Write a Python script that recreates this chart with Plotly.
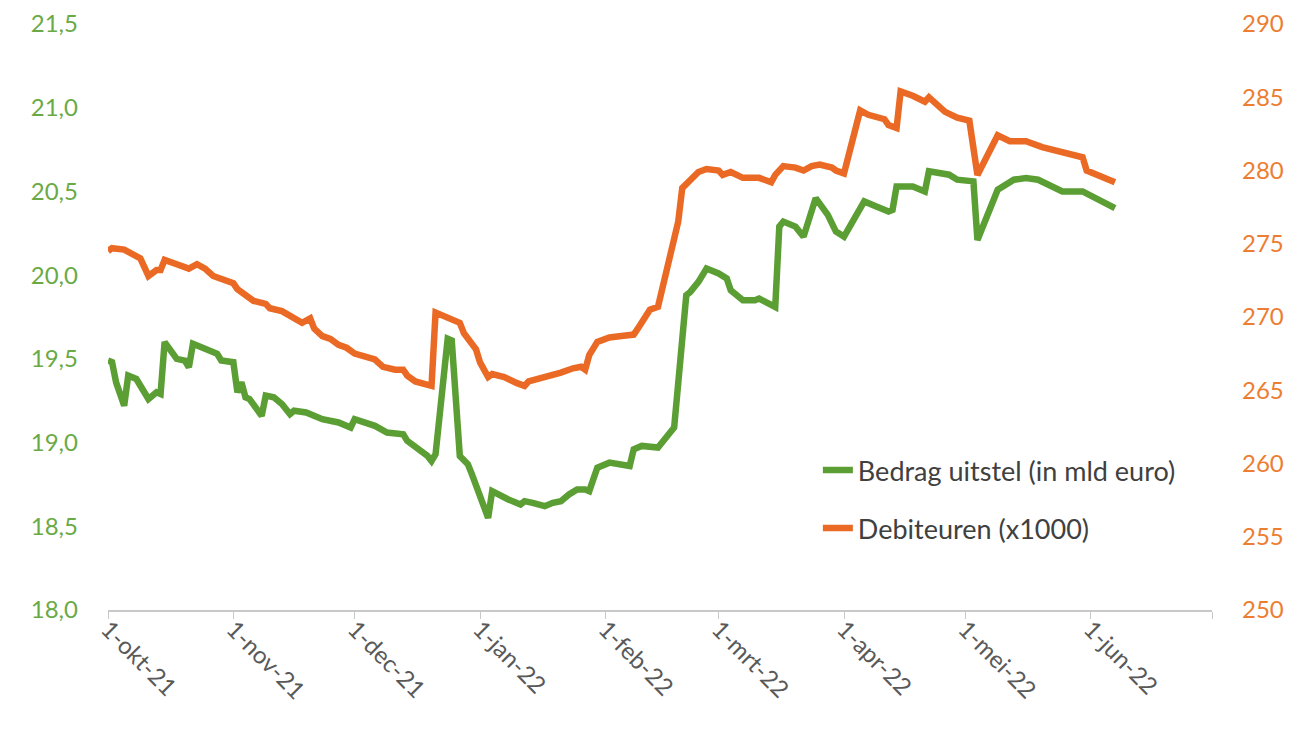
import plotly.graph_objects as go

# Bedrag uitstel (in mld euro) - left axis
uitstel_dates = [
    '2021-10-01', '2021-10-02', '2021-10-03', '2021-10-05', '2021-10-06', '2021-10-08',
    '2021-10-11', '2021-10-13', '2021-10-14', '2021-10-15', '2021-10-18', '2021-10-20',
    '2021-10-21', '2021-10-22', '2021-10-25', '2021-10-28', '2021-10-29', '2021-11-01',
    '2021-11-02', '2021-11-03', '2021-11-04', '2021-11-05', '2021-11-08', '2021-11-09',
    '2021-11-11', '2021-11-13', '2021-11-15', '2021-11-16', '2021-11-19', '2021-11-23',
    '2021-11-27', '2021-11-30', '2021-12-01', '2021-12-04', '2021-12-06', '2021-12-09',
    '2021-12-13', '2021-12-14', '2021-12-17', '2021-12-19', '2021-12-20', '2021-12-21',
    '2021-12-24', '2021-12-25', '2021-12-27', '2021-12-29', '2021-12-30', '2022-01-01',
    '2022-01-03', '2022-01-04', '2022-01-06', '2022-01-08', '2022-01-11', '2022-01-12',
    '2022-01-14', '2022-01-17', '2022-01-19', '2022-01-21', '2022-01-23', '2022-01-25',
    '2022-01-27', '2022-01-28', '2022-01-30', '2022-02-02', '2022-02-07', '2022-02-08',
    '2022-02-10', '2022-02-14', '2022-02-17', '2022-02-18', '2022-02-21', '2022-02-22',
    '2022-02-24', '2022-02-26', '2022-03-01', '2022-03-03', '2022-03-04', '2022-03-07',
    '2022-03-10', '2022-03-11', '2022-03-15', '2022-03-16', '2022-03-17', '2022-03-20',
    '2022-03-22', '2022-03-25', '2022-03-28', '2022-03-30', '2022-04-01', '2022-04-06',
    '2022-04-09', '2022-04-12', '2022-04-13', '2022-04-14', '2022-04-18', '2022-04-21',
    '2022-04-22', '2022-04-24', '2022-04-27', '2022-04-29', '2022-05-03', '2022-05-04',
    '2022-05-09', '2022-05-13', '2022-05-16', '2022-05-19', '2022-05-25', '2022-05-30',
    '2022-06-07',
]
uitstel = [
    19.49, 19.48, 19.36, 19.22, 19.40, 19.38,
    19.26, 19.30, 19.29, 19.60, 19.50, 19.49,
    19.45, 19.59, 19.56, 19.53, 19.49, 19.48,
    19.30, 19.36, 19.27, 19.26, 19.16, 19.28,
    19.27, 19.23, 19.17, 19.19, 19.18, 19.14,
    19.12, 19.09, 19.14, 19.12, 19.10, 19.06,
    19.05, 19.01, 18.96, 18.92, 18.89, 18.93,
    19.62, 19.61, 18.92, 18.87, 18.81, 18.67,
    18.55, 18.71, 18.68, 18.66, 18.63, 18.65,
    18.64, 18.62, 18.64, 18.65, 18.69, 18.72,
    18.72, 18.71, 18.85, 18.88, 18.86, 18.96,
    18.98, 18.97, 19.06, 19.09, 19.88, 19.90,
    19.96, 20.04, 20.01, 19.98, 19.91, 19.85,
    19.85, 19.86, 19.81, 20.29, 20.32, 20.29,
    20.23, 20.46, 20.36, 20.26, 20.23, 20.44,
    20.41, 20.38, 20.39, 20.53, 20.53, 20.50,
    20.62, 20.61, 20.60, 20.57, 20.56, 20.21,
    20.51, 20.57, 20.58, 20.57, 20.50, 20.50,
    20.40,
]

# Debiteuren (x1000) - right axis
debiteuren_dates = [
    '2021-10-01', '2021-10-02', '2021-10-05', '2021-10-08', '2021-10-09', '2021-10-11',
    '2021-10-13', '2021-10-14', '2021-10-15', '2021-10-18', '2021-10-21', '2021-10-23',
    '2021-10-25', '2021-10-27', '2021-10-28', '2021-10-30', '2021-11-01', '2021-11-02',
    '2021-11-04', '2021-11-06', '2021-11-09', '2021-11-10', '2021-11-13', '2021-11-16',
    '2021-11-18', '2021-11-20', '2021-11-21', '2021-11-23', '2021-11-25', '2021-11-27',
    '2021-11-29', '2021-12-01', '2021-12-04', '2021-12-06', '2021-12-08', '2021-12-11',
    '2021-12-13', '2021-12-14', '2021-12-16', '2021-12-19', '2021-12-20', '2021-12-21',
    '2021-12-22', '2021-12-25', '2021-12-27', '2021-12-28', '2021-12-30', '2021-12-31',
    '2022-01-01', '2022-01-03', '2022-01-04', '2022-01-07', '2022-01-10', '2022-01-12',
    '2022-01-13', '2022-01-16', '2022-01-19', '2022-01-21', '2022-01-24', '2022-01-26',
    '2022-01-27', '2022-01-28', '2022-01-30', '2022-02-02', '2022-02-05', '2022-02-08',
    '2022-02-09', '2022-02-10', '2022-02-11', '2022-02-12', '2022-02-14', '2022-02-15',
    '2022-02-17', '2022-02-18', '2022-02-19', '2022-02-20', '2022-02-22', '2022-02-24',
    '2022-02-26', '2022-03-01', '2022-03-02', '2022-03-04', '2022-03-07', '2022-03-11',
    '2022-03-14', '2022-03-15', '2022-03-17', '2022-03-20', '2022-03-22', '2022-03-24',
    '2022-03-26', '2022-03-29', '2022-03-30', '2022-04-01', '2022-04-05', '2022-04-07',
    '2022-04-11', '2022-04-12', '2022-04-14', '2022-04-15', '2022-04-18', '2022-04-21',
    '2022-04-22', '2022-04-24', '2022-04-26', '2022-04-29', '2022-05-02', '2022-05-04',
    '2022-05-09', '2022-05-12', '2022-05-16', '2022-05-20', '2022-05-25', '2022-05-30',
    '2022-05-31', '2022-06-07',
]
debiteuren = [
    274.5, 274.7, 274.6, 274.2, 274.0, 272.8,
    273.2, 273.2, 273.9, 273.6, 273.3, 273.6,
    273.3, 272.8, 272.7, 272.4, 272.3, 271.9,
    271.5, 271.1, 270.9, 270.6, 270.4, 269.9,
    269.6, 269.9, 269.2, 268.7, 268.5, 268.1,
    267.9, 267.5, 267.3, 267.1, 266.6, 266.4,
    266.4, 266.0, 265.6, 265.4, 265.3, 270.3,
    270.2, 269.9, 269.6, 268.9, 268.1, 267.8,
    266.9, 265.9, 266.1, 265.9, 265.5, 265.3,
    265.6, 265.8, 266.0, 266.2, 266.5, 266.6,
    266.4, 267.4, 268.3, 268.6, 268.7, 268.8,
    269.2, 269.7, 270.2, 270.5, 270.7, 271.8,
    274.3, 275.0, 276.5, 278.8, 279.4, 279.9,
    280.1, 280.0, 279.7, 279.9, 279.5, 279.5,
    279.2, 279.7, 280.3, 280.2, 280.0, 280.3,
    280.4, 280.2, 280.0, 279.8, 284.1, 283.8,
    283.5, 283.1, 282.9, 285.4, 285.1, 284.7,
    285.0, 284.5, 284.0, 283.6, 283.4, 279.7,
    282.4, 282.0, 282.0, 281.6, 281.2, 280.9,
    280.0, 279.2,
]

# x-axis ticks (first of every month)
tick_dates = ['2021-10-01', '2021-11-01', '2021-12-01', '2022-01-01', '2022-02-01',
              '2022-03-01', '2022-04-01', '2022-05-01', '2022-06-01', '2022-07-01']
tick_labels = ['1-okt-21', '1-nov-21', '1-dec-21', '1-jan-22', '1-feb-22',
               '1-mrt-22', '1-apr-22', '1-mei-22', '1-jun-22', '']

GREEN = '#5b9e34'
ORANGE = '#ea6a25'
FONT = 'Lato, Open Sans, sans-serif'

fig = go.Figure()

fig.add_trace(go.Scatter(
    x=uitstel_dates,
    y=uitstel,
    mode='lines',
    name='Bedrag uitstel (in mld euro)',
    legendgroup='a',
    line=dict(color=GREEN, width=6.5),
))

fig.add_trace(go.Scatter(
    x=debiteuren_dates,
    y=debiteuren,
    mode='lines',
    name='Debiteuren (x1000)',
    legendgroup='b',
    yaxis='y2',
    line=dict(color=ORANGE, width=6.5),
))

# page body has an 8px margin, so margins are shifted to land the plot area on the reference
fig.update_layout(
    width=1299,
    height=732,
    margin=dict(l=100, r=95, t=16, b=130),
    paper_bgcolor='white',
    plot_bgcolor='white',
    separators=',.',
    font=dict(family=FONT, size=24, color='#595959'),
    xaxis=dict(
        type='date',
        range=['2021-10-01', '2022-07-01'],
        tickvals=tick_dates,
        ticktext=tick_labels,
        tickangle=45,
        automargin=False,
        showgrid=False,
        zeroline=False,
        showline=True,
        linecolor='#c8c8c8',
        linewidth=1.5,
        ticks='outside',
        ticklen=7,
        tickcolor='#c8c8c8',
        ticklabelstandoff=-13,
        tickfont=dict(size=24, color='#595959'),
    ),
    yaxis=dict(
        range=[18, 21.5],
        dtick=0.5,
        tick0=18,
        tickformat='.1f',
        automargin=False,
        ticklabeloverflow='allow',
        showgrid=False,
        zeroline=False,
        showline=False,
        ticklabelstandoff=29,
        tickfont=dict(size=24, color='#6aaa45'),
    ),
    yaxis2=dict(
        range=[250, 290],
        dtick=5,
        tick0=250,
        overlaying='y',
        side='right',
        automargin=False,
        ticklabeloverflow='allow',
        showgrid=False,
        zeroline=False,
        showline=False,
        ticklabelstandoff=29,
        tickfont=dict(size=24, color='#ed7d31'),
    ),
    legend=dict(
        x=0.643,
        y=0.28,
        xanchor='left',
        yanchor='top',
        bgcolor='rgba(0,0,0,0)',
        font=dict(size=27, color='#404040'),
        traceorder='grouped',
        tracegroupgap=20,
    ),
)

fig.write_html('out.html')
